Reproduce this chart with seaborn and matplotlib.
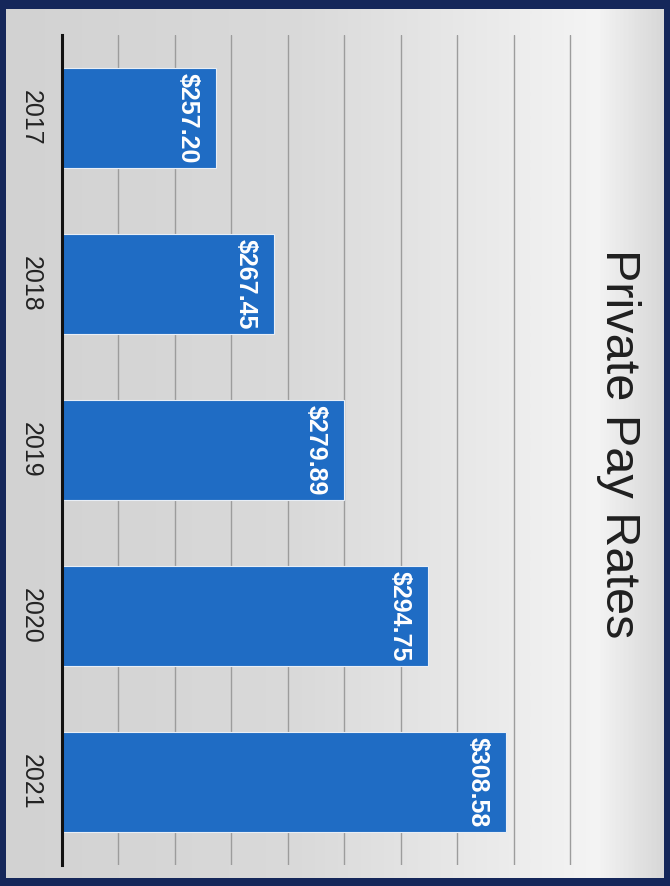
import numpy as np
import pandas as pd
import matplotlib
matplotlib.use("Agg")
import matplotlib.pyplot as plt
import seaborn as sns
from matplotlib.colors import LinearSegmentedColormap

# Chart data
years = ["2017", "2018", "2019", "2020", "2021"]
rates = [257.20, 267.45, 279.89, 294.75, 308.58]
rate_labels = ["$257.20", "$267.45", "$279.89", "$294.75", "$308.58"]
title = "Private Pay Rates"

sns.set_theme(style="white")
plt.rcParams["font.family"] = ["Liberation Sans", "DejaVu Sans"]

W, H = 670, 886
fig = plt.figure(figsize=(W / 100, H / 100), dpi=100, facecolor="#15275a")

# Light slide panel with a soft horizontal sheen
panel = fig.add_axes([6 / W, 1 - 878 / H, (664 - 6) / W, (878 - 9) / H])
sheen = LinearSegmentedColormap.from_list(
    "sheen",
    [(0.0, "#d2d2d2"), (0.45, "#dadada"), (0.75, "#ebebeb"),
     (0.9, "#f4f4f4"), (1.0, "#d8d8d8")],
)
panel.imshow(np.linspace(0, 1, 400)[None, :], aspect="auto", cmap=sheen,
             extent=[0, 1, 0, 1], origin="lower")
panel.set_axis_off()

# Bar chart, laid out sideways
ax = fig.add_axes([62 / W, 1 - 865 / H, (585 - 62) / W, (865 - 35) / H])
ax.patch.set_alpha(0)
df = pd.DataFrame({"year": years, "rate": rates})
sns.barplot(data=df, x="rate", y="year", orient="h", color="#1f6cc4",
            saturation=1, width=0.6, ax=ax, zorder=3,
            edgecolor="#e8eef6", linewidth=0.8)

ax.set_xlim(230, 322.6)
ax.set_ylim(4.5, -0.5)
ax.set_xticks(np.arange(230, 330, 10))
ax.xaxis.grid(True, color="#9c9c9c", linewidth=1.0, zorder=0)
ax.yaxis.grid(False)
ax.tick_params(axis="x", length=0, labelbottom=False)
ax.tick_params(axis="y", length=0, pad=14)
ax.set_xlabel("")
ax.set_ylabel("")
for side in ["top", "right", "bottom"]:
    ax.spines[side].set_visible(False)
ax.spines["left"].set_color("#111111")
ax.spines["left"].set_linewidth(2.2)
ax.spines["left"].set_zorder(4)

for lbl in ax.get_yticklabels():
    lbl.set_rotation(-90)
    lbl.set_fontsize(18)
    lbl.set_color("#222222")
    lbl.set_va("center")
    lbl.set_ha("right")

for i, (v, s) in enumerate(zip(rates, rate_labels)):
    ax.annotate(s, xy=(v, i), xytext=(-16, 0), textcoords="offset pixels",
                rotation=-90, ha="right", va="center", fontsize=18,
                fontweight="bold", color="white", zorder=5)

fig.text(619 / W, 1 - 444 / H, title, rotation=-90, ha="center",
         va="center", fontsize=35, color="#1f1f1f")

fig.savefig("out.png", dpi=100, facecolor=fig.get_facecolor())
